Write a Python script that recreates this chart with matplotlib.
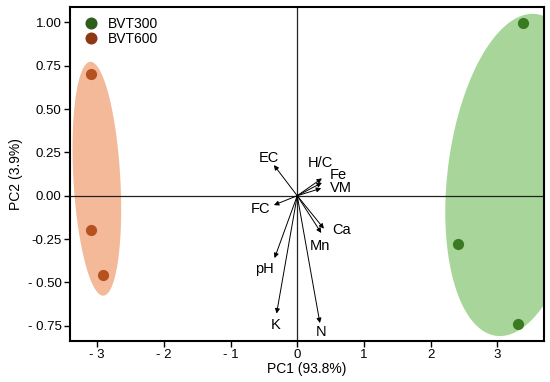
import matplotlib

matplotlib.use("Agg")
import matplotlib.pyplot as plt
import numpy as np
from matplotlib.patches import Polygon

plt.rcParams["font.family"] = ["Liberation Sans", "DejaVu Sans"]

# scores
bvt300_x = [3.38, 2.41, 3.31]
bvt300_y = [0.995, -0.28, -0.74]
bvt600_x = [-3.10, -3.10, -2.91]
bvt600_y = [0.70, -0.20, -0.46]

# loadings (arrow tips) and label positions
var_names = ["EC", "H/C", "Fe", "VM", "FC", "Ca", "Mn", "pH", "K", "N"]
load_x = [-0.35, 0.37, 0.37, 0.36, -0.35, 0.40, 0.36, -0.34, -0.31, 0.34]
load_y = [0.177, 0.10, 0.075, 0.043, -0.054, -0.19, -0.215, -0.36, -0.68, -0.735]
lab_x = [-0.42, 0.34, 0.62, 0.66, -0.55, 0.66, 0.34, -0.49, -0.32, 0.36]
lab_y = [0.22, 0.19, 0.12, 0.045, -0.075, -0.20, -0.29, -0.425, -0.745, -0.785]

# group ellipses: centre x, centre y, half-width, half-height, shear
ell300 = (3.285, 0.12, 1.036, 0.93, 0.245)
ell600 = (-3.005, 0.098, 0.352, 0.675, -0.095)

xticks = [-3, -2, -1, 0, 1, 2, 3]
xtick_labels = ["- 3", "- 2", "- 1", "0", "1", "2", "3"]
yticks = [1.0, 0.75, 0.5, 0.25, 0.0, -0.25, -0.5, -0.75]
ytick_labels = ["1.00", "0.75", "0.50", "0.25", "0.00", "-0.25", "- 0.50", "- 0.75"]


def ellipse_poly(cx, cy, rx, ry, sh, color):
    t = np.linspace(0, 2 * np.pi, 200)
    xs = cx + rx * np.cos(t) + sh * np.sin(t)
    ys = cy + ry * np.sin(t)
    return Polygon(np.column_stack([xs, ys]), closed=True, facecolor=color,
                   edgecolor="none", zorder=1)


fig = plt.figure(figsize=(5.5, 3.82), dpi=100)
ax = fig.add_axes([0.127, 0.108, 0.862, 0.874])

ax.add_patch(ellipse_poly(*ell300, "#a8d59a"))
ax.add_patch(ellipse_poly(*ell600, "#f4b999"))

ax.axhline(0, color="#222222", lw=0.9, zorder=2)
ax.axvline(0, color="#222222", lw=0.9, zorder=2)

ax.scatter(bvt300_x, bvt300_y, s=65, color="#3a7b22", zorder=4, linewidths=0)
ax.scatter(bvt600_x, bvt600_y, s=65, color="#b6521f", zorder=4, linewidths=0)

for name, x, y, tx, ty in zip(var_names, load_x, load_y, lab_x, lab_y):
    ax.annotate("", xy=(x, y), xytext=(0, 0),
                arrowprops=dict(arrowstyle="-|>", color="black", lw=0.7,
                                mutation_scale=7, shrinkA=0, shrinkB=0),
                zorder=3)
    ax.text(tx, ty, name, fontsize=10.5, ha="center", va="center", zorder=5)

# legend
h1 = ax.scatter([], [], s=75, color="#2d5e1b", linewidths=0, label="BVT300")
h2 = ax.scatter([], [], s=75, color="#8e3813", linewidths=0, label="BVT600")
ax.legend(handles=[h1, h2], loc="upper left", bbox_to_anchor=(0.009, 0.978),
          frameon=False, fontsize=10, handletextpad=0.25, labelspacing=0.05,
          borderaxespad=0.0, borderpad=0.2, scatteryoffsets=[0.5])

ax.set_xlim(-3.41, 3.70)
ax.set_ylim(-0.837, 1.09)
ax.set_xticks(xticks)
ax.set_xticklabels(xtick_labels)
ax.set_yticks(yticks)
ax.set_yticklabels(ytick_labels)
ax.tick_params(labelsize=9.5, length=4, width=1, pad=2)
for sp in ax.spines.values():
    sp.set_linewidth(1.5)

ax.set_xlabel("PC1 (93.8%)", fontsize=10, labelpad=1)
ax.set_ylabel("PC2 (3.9%)", fontsize=10, labelpad=3)

fig.savefig("out.png", dpi=100)
